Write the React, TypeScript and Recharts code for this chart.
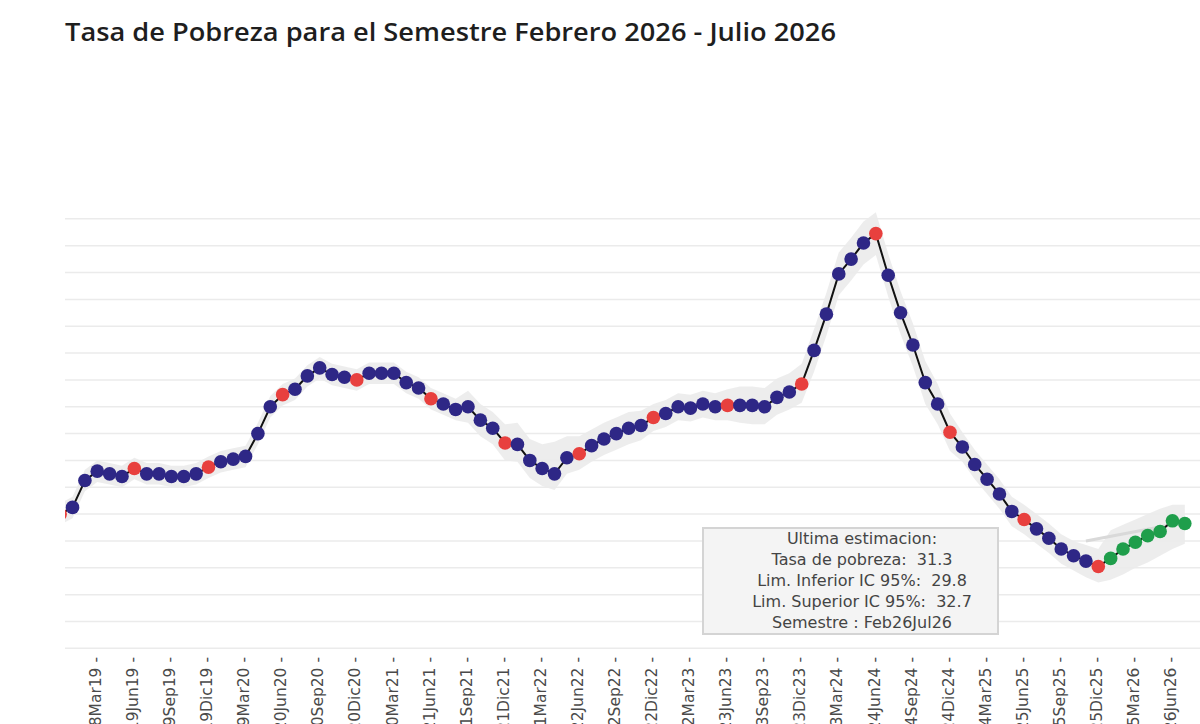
import React from "react";
import {
  ComposedChart,
  Line,
  Area,
  XAxis,
  YAxis,
  ReferenceLine,
} from "recharts";

// Semestres móviles (categoría de cada punto)
const semestres: string[] = [
  "Jul18Dic18",
  "Ago18Ene19", "Sep18Feb19", "Oct18Mar19", "Nov18Abr19", "Dic18May19", "Ene19Jun19",
  "Feb19Jul19", "Mar19Ago19", "Abr19Sep19", "May19Oct19", "Jun19Nov19", "Jul19Dic19",
  "Ago19Ene20", "Sep19Feb20", "Oct19Mar20", "Nov19Abr20", "Dic19May20", "Ene20Jun20",
  "Feb20Jul20", "Mar20Ago20", "Abr20Sep20", "May20Oct20", "Jun20Nov20", "Jul20Dic20",
  "Ago20Ene21", "Sep20Feb21", "Oct20Mar21", "Nov20Abr21", "Dic20May21", "Ene21Jun21",
  "Feb21Jul21", "Mar21Ago21", "Abr21Sep21", "May21Oct21", "Jun21Nov21", "Jul21Dic21",
  "Ago21Ene22", "Sep21Feb22", "Oct21Mar22", "Nov21Abr22", "Dic21May22", "Ene22Jun22",
  "Feb22Jul22", "Mar22Ago22", "Abr22Sep22", "May22Oct22", "Jun22Nov22", "Jul22Dic22",
  "Ago22Ene23", "Sep22Feb23", "Oct22Mar23", "Nov22Abr23", "Dic22May23", "Ene23Jun23",
  "Feb23Jul23", "Mar23Ago23", "Abr23Sep23", "May23Oct23", "Jun23Nov23", "Jul23Dic23",
  "Ago23Ene24", "Sep23Feb24", "Oct23Mar24", "Nov23Abr24", "Dic23May24", "Ene24Jun24",
  "Feb24Jul24", "Mar24Ago24", "Abr24Sep24", "May24Oct24", "Jun24Nov24", "Jul24Dic24",
  "Ago24Ene25", "Sep24Feb25", "Oct24Mar25", "Nov24Abr25", "Dic24May25", "Ene25Jun25",
  "Feb25Jul25", "Mar25Ago25", "Abr25Sep25", "May25Oct25", "Jun25Nov25", "Jul25Dic25",
  "Ago25Ene26", "Sep25Feb26", "Oct25Mar26", "Nov25Abr26", "Dic25May26", "Ene26Jun26",
  "Feb26Jul26",
];

// Tasa de pobreza estimada (%)
const tasa: number[] = [
  32.0,
  32.5, 34.5, 35.2, 35.0, 34.8, 35.4, 35.0, 35.0, 34.8, 34.8, 35.0, 35.5,
  35.9, 36.1, 36.3, 38.0, 40.0, 40.9, 41.3, 42.3, 42.9, 42.4, 42.2, 42.0,
  42.5, 42.5, 42.5, 41.8, 41.4, 40.6, 40.2, 39.8, 40.0, 39.0, 38.4, 37.3,
  37.2, 36.0, 35.4, 35.0, 36.2, 36.5, 37.1, 37.6, 38.0, 38.4, 38.6, 39.2,
  39.5, 40.0, 39.9, 40.2, 40.0, 40.1, 40.1, 40.1, 40.0, 40.7, 41.1, 41.7,
  44.2, 46.9, 49.9, 51.0, 52.2, 52.9, 49.8, 47.0, 44.6, 41.8, 40.2, 38.1,
  37.0, 35.7, 34.6, 33.5, 32.2, 31.6, 30.9, 30.2, 29.4, 28.9, 28.5, 28.1,
  28.7, 29.4, 29.9, 30.4, 30.7, 31.5, 31.3,
];

// Límite inferior IC 95%
const limInf: number[] = [
  31.2,
  31.7, 33.7, 34.4, 34.2, 34.0, 34.6, 34.2, 34.2, 34.0, 34.0, 34.2, 34.7,
  35.1, 35.3, 35.5, 37.2, 39.2, 40.1, 40.5, 41.5, 42.1, 41.6, 41.4, 41.2,
  41.7, 41.7, 41.7, 41.0, 40.6, 39.8, 39.4, 39.0, 38.8, 37.8, 37.2, 36.0,
  35.9, 34.7, 34.1, 33.8, 35.0, 35.3, 35.9, 36.4, 36.8, 37.2, 37.5, 38.2,
  38.5, 39.0, 38.9, 39.2, 39.0, 39.0, 38.8, 38.7, 38.7, 39.4, 39.8, 40.3,
  42.6, 45.3, 48.3, 49.4, 50.6, 51.3, 48.2, 45.4, 43.0, 40.2, 38.7, 36.7,
  35.9, 34.6, 33.5, 32.4, 31.1, 30.5, 29.8, 29.1, 28.3, 27.8, 27.3, 26.9,
  27.1, 27.5, 28.0, 28.4, 28.9, 29.4, 29.8,
];

// Límite superior IC 95%
const limSup: number[] = [
  32.8,
  33.3, 35.3, 36.0, 35.8, 35.6, 36.2, 35.8, 35.8, 35.6, 35.6, 35.8, 36.3,
  36.7, 36.9, 37.1, 38.8, 40.8, 41.7, 42.1, 43.1, 43.7, 43.2, 43.0, 42.8,
  43.3, 43.3, 43.3, 42.6, 42.2, 41.4, 41.0, 40.6, 41.2, 40.2, 39.6, 38.7,
  38.8, 37.6, 37.2, 37.4, 37.8, 37.8, 38.3, 38.8, 39.2, 39.6, 39.7, 40.2,
  40.5, 41.0, 40.9, 41.2, 41.0, 41.3, 41.5, 41.5, 41.4, 42.1, 42.5, 43.2,
  45.8, 48.5, 51.5, 52.6, 53.8, 54.5, 51.4, 48.6, 46.2, 43.4, 41.7, 39.5,
  38.1, 36.8, 35.7, 34.6, 33.3, 32.7, 32.0, 31.3, 30.5, 30.0, 29.7, 29.4,
  30.8, 31.2, 31.6, 32.0, 32.4, 32.7, 32.7,
];

// Línea de tendencia gris clara
const tendenciaSem: string[] = ["Jun25Nov25", "Feb26Jul26"];
const tendenciaVal: number[] = [30.0, 31.4];

// Etiquetas del eje x (trimestrales)
const tickSemestres: string[] = [
  "Oct18Mar19", "Ene19Jun19", "Abr19Sep19", "Jul19Dic19",
  "Oct19Mar20", "Ene20Jun20", "Abr20Sep20", "Jul20Dic20",
  "Oct20Mar21", "Ene21Jun21", "Abr21Sep21", "Jul21Dic21",
  "Oct21Mar22", "Ene22Jun22", "Abr22Sep22", "Jul22Dic22",
  "Oct22Mar23", "Ene23Jun23", "Abr23Sep23", "Jul23Dic23",
  "Oct23Mar24", "Ene24Jun24", "Abr24Sep24", "Jul24Dic24",
  "Oct24Mar25", "Ene25Jun25", "Abr25Sep25", "Jul25Dic25",
  "Oct25Mar26", "Ene26Jun26",
];

// Valores de las líneas de la grilla horizontal
const gridTicks: number[] = [22, 24, 26, 28, 30, 32, 34, 36, 38, 40, 42, 44, 46, 48, 50, 52, 54];

const ultimaOficial = "Jul25Dic25";

const COLOR_EST = "#2e2786";
const COLOR_OFI = "#e8403e";
const COLOR_PRO = "#1f9e4b";

const idxOficial = semestres.indexOf(ultimaOficial);

const data = semestres.map((s, i) => {
  const fin = s.slice(5, 8);
  let color = COLOR_EST;
  if (i > idxOficial) color = COLOR_PRO;
  else if (fin === "Jun" || fin === "Dic") color = COLOR_OFI;
  return {
    idx: i,
    semestre: s,
    tasa: tasa[i],
    banda: [limInf[i], limSup[i]],
    color,
  };
});

const tendData = tendenciaSem.map((s, k) => ({
  idx: semestres.indexOf(s),
  valor: tendenciaVal[k],
}));

const tickIdx = tickSemestres.map((s) => semestres.indexOf(s));

const FONT = "'DejaVu Sans', Verdana, sans-serif";

const SemTick = (props: any) => {
  const { x, y, payload } = props;
  const label = semestres[payload.value];
  return (
    <g>
      <text
        transform={`translate(${x + 3.7},${y + 6}) rotate(-90)`}
        textAnchor="end"
        fontSize={15.5}
        fontFamily={FONT}
        fill="#4a4a4a"
      >
        {label + " -"}
      </text>
    </g>
  );
};

const renderDot = (props: any) => {
  const { cx, cy, index, payload } = props;
  if (cx == null || cy == null) return <g key={`d-${index}`} />;
  return <circle key={`d-${index}`} cx={cx} cy={cy} r={6.8} fill={payload.color} stroke="none" />;
};

export default function App() {
  const n = semestres.length - 1;
  return (
    <div
      style={{
        position: "absolute",
        left: 0,
        top: 0,
        width: 1200,
        height: 724,
        overflow: "hidden",
        background: "#ffffff",
      }}
    >
      <svg width={1200} height={60} style={{ position: "absolute", left: 0, top: 0 }}>
        <text
          x={65}
          y={41}
          fontSize={26}
          fontWeight={600}
          fontFamily="'Open Sans', 'Noto Sans', sans-serif"
          fill="#1e1e1e"
          textLength={771}
          lengthAdjust="spacingAndGlyphs"
        >
          Tasa de Pobreza para el Semestre Febrero 2026 - Julio 2026
        </text>
      </svg>
      <div style={{ position: "absolute", left: 0, top: 0 }}>
        <ComposedChart
          width={1215}
          height={724}
          data={data}
          margin={{ top: 199, right: 3, left: 65, bottom: 0 }}
        >
          <XAxis
            dataKey="idx"
            type="number"
            domain={[0.39, 93.2]}
            allowDataOverflow
            ticks={tickIdx}
            interval={0}
            tick={<SemTick />}
            tickLine={false}
            axisLine={false}
            tickSize={0}
            tickMargin={0}
            height={73}
          />
          <YAxis
            hide
            type="number"
            domain={[21.8, 55.48]}
            allowDataOverflow
            ticks={gridTicks}
          />
          {gridTicks.map((v) => (
            <ReferenceLine key={`g-${v}`} y={v} stroke="#ebebeb" strokeWidth={1.5} />
          ))}
          <Area
            dataKey="banda"
            type="linear"
            fill="#c4c4c4"
            fillOpacity={0.3}
            stroke="none"
            isAnimationActive={false}
            activeDot={false}
          />
          <Line
            dataKey="tasa"
            stroke="none"
            dot={renderDot}
            activeDot={false}
            isAnimationActive={false}
          />
          <Line
            data={tendData}
            dataKey="valor"
            type="linear"
            stroke="#d9d9d9"
            strokeWidth={3}
            dot={false}
            activeDot={false}
            isAnimationActive={false}
          />
          <Line
            dataKey="tasa"
            type="linear"
            stroke="#111111"
            strokeWidth={2}
            dot={false}
            activeDot={false}
            isAnimationActive={false}
          />
        </ComposedChart>
      </div>
      <div
        style={{
          position: "absolute",
          left: 702,
          top: 527,
          width: 297,
          height: 108,
          boxSizing: "border-box",
          border: "2px solid #d4d4d4",
          background: "#f4f4f4",
          fontFamily: FONT,
          fontSize: 16,
          lineHeight: "20.9px",
          color: "#444",
          textAlign: "center",
          whiteSpace: "pre",
          paddingLeft: 23,
          paddingTop: 0,
        }}
      >
        <div>Ultima estimacion:</div>
        <div>{`Tasa de pobreza:  ${tasa[n].toFixed(1)}`}</div>
        <div>{`Lim. Inferior IC 95%:  ${limInf[n].toFixed(1)}`}</div>
        <div>{`Lim. Superior IC 95%:  ${limSup[n].toFixed(1)}`}</div>
        <div>{`Semestre : ${semestres[n]}`}</div>
      </div>
    </div>
  );
}
